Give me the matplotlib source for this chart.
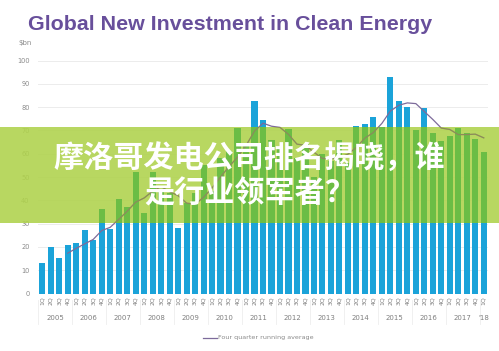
import matplotlib
matplotlib.use('Agg')
import matplotlib.pyplot as plt
from matplotlib.patches import Rectangle

# quarterly clean energy investment, $bn (1Q05 .. 1Q18)
quarters = ['1Q', '2Q', '3Q', '4Q'] * 13 + ['1Q']
years = ['2005', '2006', '2007', '2008', '2009', '2010', '2011',
         '2012', '2013', '2014', '2015', '2016', '2017', "'18"]
investment = [13.2, 19.8, 15.1, 21.0,
              21.8, 27.1, 23.0, 36.1,
              27.5, 40.4, 37.0, 52.0,
              34.7, 52.0, 45.0, 43.0,
              28.0, 39.0, 43.0, 55.0,
              44.0, 58.0, 61.0, 71.0,
              64.0, 82.7, 74.5, 66.0,
              62.0, 70.5, 58.0, 64.0,
              50.0, 60.0, 57.0, 66.0,
              56.0, 71.9, 72.7, 75.9,
              71.6, 93.0, 82.7, 80.0,
              70.2, 79.5, 69.0, 65.4,
              67.6, 70.9, 69.0, 66.2,
              60.9]
# four quarter running average, starts at 4Q05
running_avg = [17.3, 19.4, 21.3, 23.2, 27.0, 28.4, 31.8, 35.3, 39.2,
               41.0, 43.9, 45.9, 43.7, 42.0, 38.8, 38.3, 41.3, 45.3,
               50.0, 54.5, 58.5, 63.5, 69.7, 73.1, 71.8, 71.3, 68.3,
               64.1, 63.6, 60.6, 58.0, 57.8, 58.3, 59.8, 62.7, 66.7,
               69.1, 73.0, 78.3, 80.8, 81.8, 81.5, 78.1, 74.7, 71.0,
               70.4, 68.2, 68.2, 68.4, 66.8]

title = 'Global New Investment in Clean Energy'
banner_lines = ['摩洛哥发电公司排名揭晓，谁', '是行业领军者？']

blue = '#1ba3d9'
purple = '#684f9b'

fig = plt.figure(figsize=(4.99, 3.51), dpi=100)
pos = [38 / 499, 57.5 / 351, 450 / 499, 233 / 351]
ax = fig.add_axes(pos)

x = list(range(len(investment)))
x_avg = x[3:]

ax.bar(x, investment, width=0.72, color=blue, zorder=2)
ax.plot(x_avg, running_avg, color='#7d6b9b', lw=0.9, zorder=3)

ax.set_xlim(-0.5, len(investment) - 0.5)
ax.set_ylim(0, 100)
ax.set_yticks(range(0, 101, 10))
ax.yaxis.grid(True, color='#ececec', lw=0.7, zorder=0)
ax.tick_params(axis='y', length=0, labelsize=4.8, labelcolor='#8a8a8a', pad=6)
ax.set_xticks(x)
ax.set_xticklabels(quarters, rotation=90, fontsize=4.4, color='#7f7f7f')
ax.tick_params(axis='x', length=0, pad=2)
for s in ax.spines.values():
    s.set_visible(False)

# year labels and separators under the quarter labels
for k, yr in enumerate(years):
    start = k * 4
    n = min(4, len(investment) - start)
    ax.text(start + (n - 1) / 2, -10.5, yr, ha='center', va='center',
            fontsize=5, color='#7f7f7f', clip_on=False)
    ax.plot([start - 0.5, start - 0.5], [-3, -13], color='#eeeeee', lw=0.6,
            clip_on=False)

fig.text(28 / 499, 1 - 24 / 351, title, fontsize=15.4, fontweight='bold',
         color=purple, family='Liberation Sans', va='center', ha='left')
fig.text(18 / 499, 1 - 43 / 351, '$bn', fontsize=5, color='#8a8a8a',
         va='center', ha='left')

# legend
fig.add_artist(plt.Line2D([203 / 499, 217 / 499], [1 - 338 / 351] * 2,
                          color='#7d6b9b', lw=0.9))
fig.text(218 / 499, 1 - 338 / 351, 'Four quarter running average',
         fontsize=4.6, color='#8a8a8a', va='center', ha='left')

# banner
b_bot, b_top = 1 - 222.5 / 351, 1 - 127 / 351
banner = Rectangle((0, b_bot), 1, b_top - b_bot, transform=fig.transFigure,
                   facecolor='#afd24b', alpha=0.88, edgecolor='none', zorder=1)
fig.add_artist(banner)

ax2 = fig.add_axes(pos, zorder=2)
ax2.set_facecolor('none')
ax2.axis('off')
ax2.set_xlim(ax.get_xlim())
ax2.set_ylim(ax.get_ylim())
clip = Rectangle((0, b_bot), 1, b_top - b_bot, transform=fig.transFigure,
                 facecolor='none', edgecolor='none')
bars = ax2.bar(x, investment, width=0.72, color='#6bbd45')
for b in bars:
    b.set_clip_path(clip)
ln, = ax2.plot(x_avg, running_avg, color='#8c8a5c', lw=0.9)
ln.set_clip_path(clip)

fig.text(0.5, 1 - 158 / 351, banner_lines[0], fontsize=21.7, fontweight='bold',
         color='white', ha='center', va='center', zorder=5,
         family=['Noto Sans CJK SC', 'DejaVu Sans'])
fig.text(0.5, 1 - 194 / 351, banner_lines[1], fontsize=21.7, fontweight='bold',
         color='white', ha='center', va='center', zorder=5,
         family=['Noto Sans CJK SC', 'DejaVu Sans'])

fig.savefig('out.png', dpi=100)
